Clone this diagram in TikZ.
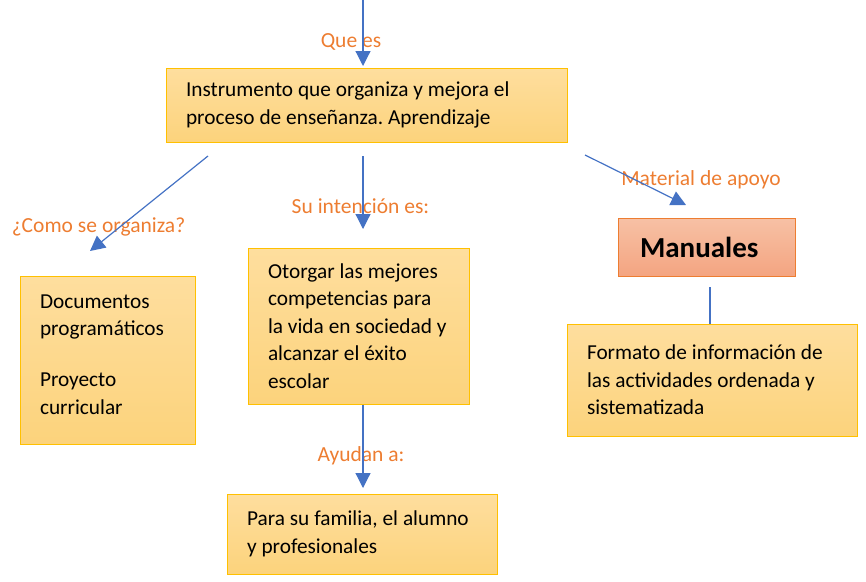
\documentclass[tikz,border=0pt]{standalone}
\usepackage{fontspec}
\setmainfont{Carlito}
\usetikzlibrary{arrows.meta}
\definecolor{boxtop}{HTML}{FEDE9E}
\definecolor{boxbot}{HTML}{FCD37C}
\definecolor{boxline}{HTML}{FFC000}
\definecolor{mtop}{HTML}{F7C1A5}
\definecolor{mbot}{HTML}{F4A481}
\definecolor{mline}{HTML}{ED7D31}
\definecolor{lab}{HTML}{ED7D31}
\definecolor{arr}{HTML}{4472C4}
\newcommand\tightspaces{\frenchspacing\spaceskip=0.23em\relax}
\begin{document}
\begin{tikzpicture}[x=1pt,y=-1pt,
  box/.style={draw=boxline, line width=1pt, top color=boxtop, bottom color=boxbot,
    inner xsep=20pt, inner ysep=0pt, align=left,
    font=\fontsize{21.3}{27.6}\selectfont, text=black,
    execute at begin node=\tightspaces},
  mbox/.style={draw=mline, line width=1pt, top color=mtop, bottom color=mbot,
    inner xsep=22pt, inner ysep=0pt, align=left,
    font=\fontsize{29}{32}\selectfont\bfseries, text=black},
  lbl/.style={text=lab, font=\fontsize{21.5}{24}\selectfont, inner sep=0pt,
    execute at begin node=\tightspaces},
  conn/.style={draw=arr, line width=1.2pt, -{Triangle[length=15pt,width=15pt]}},
  plain/.style={draw=arr, line width=1.2pt}]
\useasboundingbox (0,0) rectangle (866,581);

% labels (under arrows)
\node[lbl] (lq) at (351,42) {Que es};
\node[lbl] (lc) at (98.5,227) {¿Como se organiza?};
\node[lbl] (ls) at (360.5,206) {Su intención es:};
\node[lbl] (lm) at (701,180) {Material de apoyo};
\node[lbl] (la) at (361,456) {Ayudan a:};

% boxes
\node[box, minimum width=401pt, minimum height=74pt, text width=361pt] (top) at (366.5,105)
  {Instrumento que organiza y mejora el\\proceso de enseñanza. Aprendizaje};
\node[box, minimum width=175pt, minimum height=168pt, text width=135pt] (left) at (107.5,360)
  {Documentos\\programáticos\\[23pt]Proyecto\\curricular\par\vspace{11pt}};
\node[box, minimum width=221pt, minimum height=156pt, text width=181pt] (mid) at (358.5,326)
  {Otorgar las mejores\\competencias para\\la vida en sociedad y\\alcanzar el éxito\\escolar};
\node[mbox, minimum width=177pt, minimum height=58pt, text width=133pt] (man) at (706.5,247)
  {Manuales};
\node[box, minimum width=290pt, minimum height=112pt, text width=250pt] (right) at (712,380)
  {Formato de información de\\las actividades ordenada y\\sistematizada};
\node[box, minimum width=270pt, minimum height=80pt, text width=230pt] (bot) at (362,534)
  {Para su familia, el alumno\\y profesionales};

% connector end points
\coordinate (t0) at (363,0);
\coordinate (t1) at (363,66);
\coordinate (c0) at (208,156);
\coordinate (c1) at (90,251);
\coordinate (s0) at (363,156);
\coordinate (s1) at (363,229);
\coordinate (m0) at (585,155);
\coordinate (m1) at (686,205);
\coordinate (a1) at (363,488);
\coordinate (p0) at (710,287);

\draw[conn] (t0) -- (t1);
\draw[conn] (c0) -- (c1);
\draw[conn] (s0) -- (s1);
\draw[conn] (m0) -- (m1);
\draw[conn] (mid.south -| a1) -- (a1);
\draw[plain] (p0) -- (right.north -| p0);
\end{tikzpicture}
\end{document}
